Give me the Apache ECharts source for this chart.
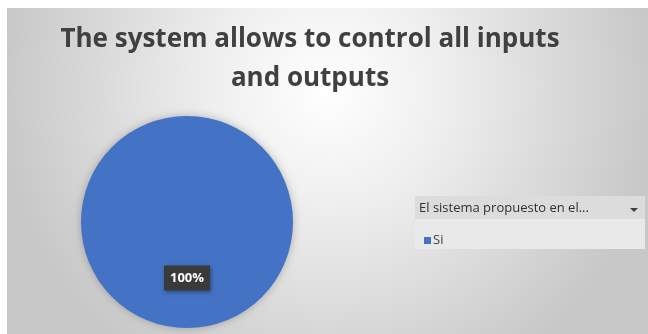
<!DOCTYPE html>
<html><head><meta charset="utf-8">
<script src="https://cdn.jsdelivr.net/npm/echarts@6/dist/echarts.min.js"></script>
<style>html,body{margin:0;padding:0;background:#fff}#c{width:648px;height:334px}</style>
</head><body><div id="c"></div>
<script>
const titleText = 'The system allows to control all inputs\nand outputs';
const fieldName = 'El sistema propuesto en el...';
const categories = ['Si'];
const values = [100];

const chart = echarts.init(document.getElementById('c'));
chart.setOption({
  backgroundColor: '#ffffff',
  animation: false,
  title: {
    text: titleText, left: 305, top: 15, textAlign: 'center',
    textStyle: {fontFamily: 'Open Sans', fontWeight: 'bold', fontSize: 26, color: '#404040', lineHeight: 39}
  },
  graphic: [
    {type: 'rect', z: -10, shape: {x: 7, y: 8, width: 641, height: 326},
     style: {fill: new echarts.graphic.RadialGradient(0.5, 0.25, 1.0, [
       {offset: 0, color: '#ffffff'}, {offset: 0.35, color: '#efefef'}, {offset: 1, color: '#c8c8c8'}])}},
    {type: 'rect', z: -5, shape: {x: 415, y: 219, width: 230, height: 30}, style: {fill: '#e9e9e9'}},
    {type: 'rect', z: -5, shape: {x: 415, y: 196, width: 230, height: 23}, style: {fill: '#dcdcdc'}},
    {type: 'text', z: 5, x: 419, y: 208, style: {text: fieldName, fill: '#2f2f3a', font: '13px "Open Sans"', textVerticalAlign: 'middle', verticalAlign: 'middle'}},
    {type: 'polygon', z: 5, shape: {points: [[630, 208], [638, 208], [634, 212]]}, style: {fill: '#404040'}}
  ],
  legend: {
    data: categories, left: 419, top: 229, orient: 'vertical',
    itemWidth: 7, itemHeight: 7, itemGap: 4, icon: 'rect',
    textStyle: {fontFamily: 'Open Sans', fontSize: 13, color: '#404040', padding: [0, 0, 0, -3]}
  },
  series: [{
    type: 'pie', center: [187, 222], radius: 106, startAngle: 90,
    data: categories.map((c, i) => ({name: c, value: values[i]})),
    itemStyle: {color: '#4472c4', shadowBlur: 8, shadowColor: 'rgba(0,0,0,0.25)'},
    label: {
      position: 'inside', formatter: '{d}%', fontFamily: 'Open Sans', fontWeight: 'bold',
      fontSize: 13, color: '#ffffff', backgroundColor: '#3a3a3a', padding: [6, 6, 6, 6],
      shadowBlur: 4, shadowColor: 'rgba(0,0,0,0.4)', shadowOffsetX: 1, shadowOffsetY: 1
    },
    labelLine: {show: false}
  }]
});
</script></body></html>
